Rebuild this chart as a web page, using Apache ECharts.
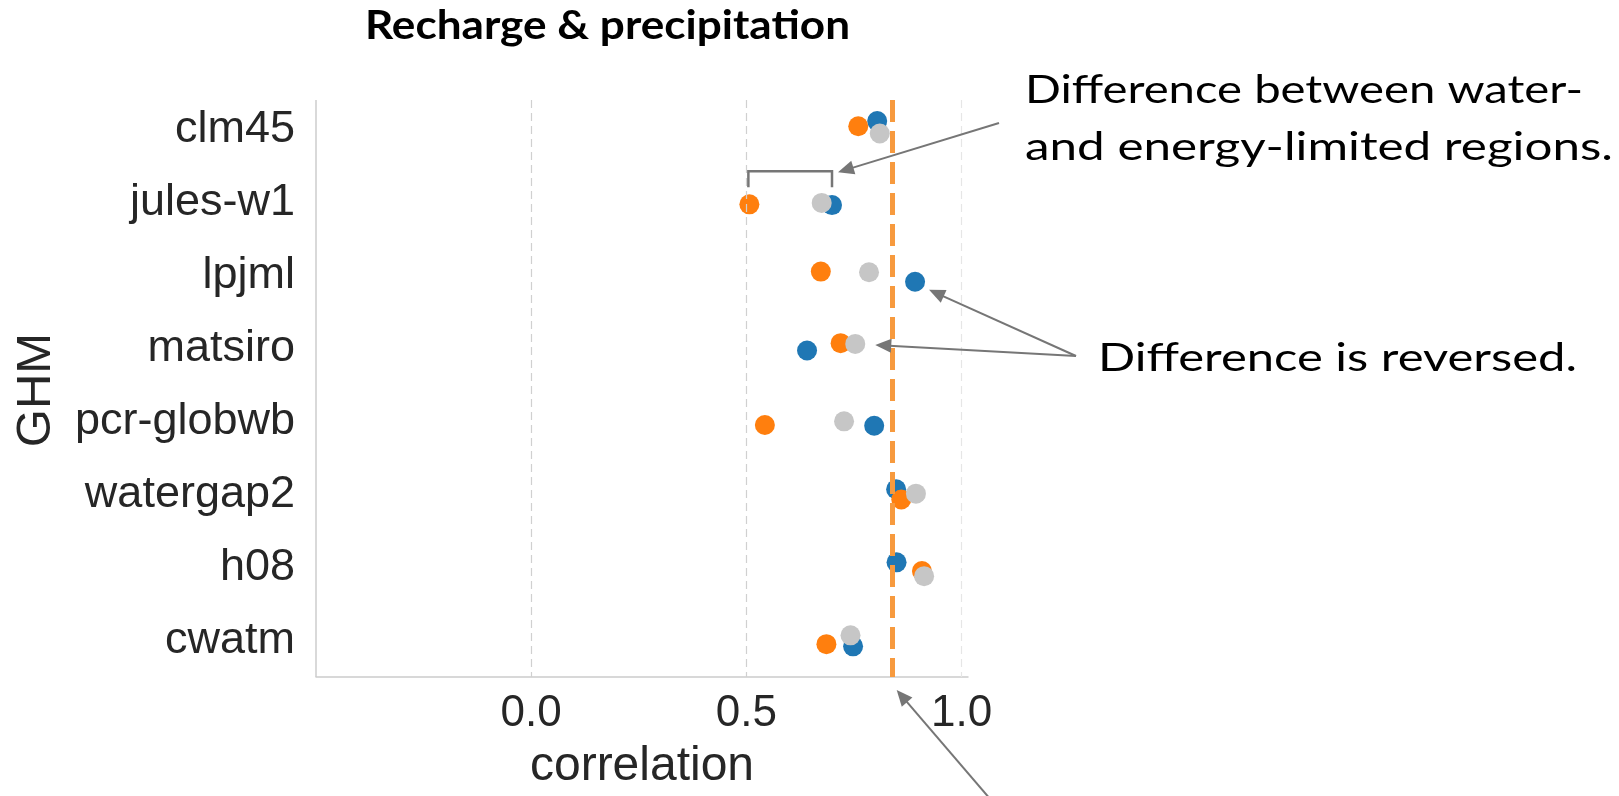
<!DOCTYPE html>
<html><head><meta charset="utf-8">
<script src="https://cdn.jsdelivr.net/npm/echarts@6/dist/echarts.min.js"></script>
<style>html,body{margin:0;padding:0;background:#fff;overflow:hidden}#c{width:1619px;height:796px}</style>
</head><body><div id="c"></div>
<script>
// ---- data ----
const categories = ['clm45', 'jules-w1', 'lpjml', 'matsiro', 'pcr-globwb', 'watergap2', 'h08', 'cwatm'];
const waterLimited  = [0.804, 0.699, 0.892, 0.641, 0.797, 0.848, 0.849, 0.748]; // blue
const energyLimited = [0.760, 0.507, 0.673, 0.719, 0.543, 0.860, 0.908, 0.686]; // orange
const allRegions    = [0.810, 0.675, 0.785, 0.753, 0.727, 0.894, 0.913, 0.742]; // grey
// strip-plot jitter (in category units)
const jitterWater  = [-0.11, 0.04, 0.09, 0.03, 0.06, -0.07, -0.07, 0.08];
const jitterEnergy = [-0.04, 0.03, -0.05, -0.07, 0.05, 0.07, 0.05, 0.05];
const jitterAll    = [0.06, 0.01, -0.04, -0.06, 0.00, -0.01, 0.12, -0.07];
const meanCorrelation = [0.84];
const xTickLabels = [0.0, 0.5, 1.0];

// ---- chart ----
const chart = echarts.init(document.getElementById('c'), null, {renderer: 'canvas'});
const SANS = 'Liberation Sans, Arial, sans-serif';
const yTop = -0.4, yBot = 7.5;
function pts(vals, jit) { return vals.map((v, i) => [v, i + jit[i]]); }
function vline(x, style) { return [{coord: [x, yTop], lineStyle: style}, {coord: [x, yBot]}]; }

const option = {
  animation: false,
  backgroundColor: '#fff',
  grid: {left: 316, right: 651, top: 92.6, bottom: 112, containLabel: false},
  xAxis: {
    type: 'value', min: -0.5, max: 1.015, interval: 0.5,
    axisLine: {show: true, onZero: false, lineStyle: {color: '#cccccc', width: 1.5}},
    axisTick: {show: false}, splitLine: {show: false},
    axisLabel: {margin: 15, fontSize: 44, color: '#262626', fontFamily: SANS,
      formatter: v => xTickLabels.some(t => Math.abs(t - v) < 1e-6) ? v.toFixed(1) : ''},
    name: 'correlation', nameLocation: 'middle', nameGap: 66,
    nameTextStyle: {fontSize: 48, color: '#262626', fontFamily: SANS}
  },
  yAxis: [
    {type: 'category', data: categories, inverse: true,
     axisLine: {show: false}, axisTick: {show: false}, splitLine: {show: false},
     axisLabel: {margin: 21, fontSize: 45, color: '#262626', fontFamily: SANS}},
    {type: 'value', min: -0.5, max: 7.5, inverse: true, show: false}
  ],
  series: [
    {type: 'scatter', xAxisIndex: 0, yAxisIndex: 1, data: [], silent: true,
     markLine: {silent: true, symbol: ['none', 'none'], label: {show: false},
       data: xTickLabels.map(t => vline(t, {type: [8, 5], color: t === 1 ? '#e6e6e6' : '#d0d0d0', width: 1.2}))
         .concat([vline(-0.5, {type: 'solid', color: '#cccccc', width: 1.5})])}},
    {name: 'water-limited', type: 'scatter', xAxisIndex: 0, yAxisIndex: 1, symbolSize: 20,
     itemStyle: {color: '#1f77b4', opacity: 1}, data: pts(waterLimited, jitterWater)},
    {name: 'energy-limited', type: 'scatter', xAxisIndex: 0, yAxisIndex: 1, symbolSize: 20,
     itemStyle: {color: '#ff7f0e', opacity: 1}, data: pts(energyLimited, jitterEnergy)},
    {name: 'all regions', type: 'scatter', xAxisIndex: 0, yAxisIndex: 1, symbolSize: 20,
     itemStyle: {color: '#c6c6c6', opacity: 1}, data: pts(allRegions, jitterAll)},
    {type: 'scatter', xAxisIndex: 0, yAxisIndex: 1, data: [], z: 10, silent: true,
     markLine: {silent: true, symbol: ['none', 'none'], label: {show: false}, z: 10,
       data: meanCorrelation.map(m => vline(m, {type: [22, 9], color: '#f79a3e', width: 5}))}}
  ]
};
chart.setOption(option);

// ---- annotations ----
const P = (x, y) => chart.convertToPixel({xAxisIndex: 0, yAxisIndex: 1}, [x, y]);
const GREY = '#767676';
const mctx = document.createElement('canvas').getContext('2d');
function fitText(text, font, left, centerY, width, extra) {
  mctx.font = font;
  const w = mctx.measureText(text).width;
  return Object.assign({type: 'text', x: left, y: centerY, scaleX: width / w, scaleY: 1,
    style: {x: 0, y: 0, text: text, font: font, fill: '#000', align: 'left', verticalAlign: 'middle'}}, extra || {});
}
function arrow(x1, y1, x2, y2) {
  const dx = x2 - x1, dy = y2 - y1, L = Math.hypot(dx, dy), ux = dx / L, uy = dy / L;
  const hl = 16, hw = 7, bx = x2 - ux * hl, by = y2 - uy * hl;
  return [
    {type: 'line', shape: {x1: x1, y1: y1, x2: bx + ux * 2, y2: by + uy * 2}, style: {stroke: GREY, lineWidth: 2}, z: 20},
    {type: 'polygon', shape: {points: [[x2, y2], [bx - uy * hw, by + ux * hw], [bx + uy * hw, by - ux * hw]]}, style: {fill: GREY}, z: 20}
  ];
}
const jo = P(energyLimited[1], 1), jb = P(waterLimited[1], 1);
const yt = jo[1] - 31, yb = yt + 16;
const lpB = P(waterLimited[2], 2 + jitterWater[2]);
const maG = P(allRegions[3], 3 + jitterAll[3]);
const mB = P(meanCorrelation[0], yBot);
const ANN = 'Lato, "Open Sans", sans-serif';
const graphics = [
  fitText('Recharge & precipitation', 'bold 40px ' + ANN, 365, 26, 485),
  fitText('Difference between water-', '39px ' + ANN, 1025, 90, 558),
  fitText('and energy-limited regions.', '39px ' + ANN, 1025, 147, 588),
  fitText('Difference is reversed.', '39px ' + ANN, 1098, 358, 479),
  {type: 'text', rotation: Math.PI / 2, x: 36, y: 390, style: {x: 0, y: 0, text: 'GHM', font: '49px ' + SANS, fill: '#262626', align: 'center', verticalAlign: 'middle'}},
  {type: 'polyline', shape: {points: [[jo[0] - 1, yb], [jo[0] - 1, yt], [jb[0], yt], [jb[0], yb]]}, style: {stroke: GREY, lineWidth: 2.5, fill: null}, z: 20}
].concat(arrow(999, 123, jb[0] + 6, yt + 1))
 .concat(arrow(1076, 356, lpB[0] + 14, lpB[1] + 8))
 .concat(arrow(1076, 356, maG[0] + 20, maG[1] + 1))
 .concat(arrow(991, 800, mB[0] + 4, mB[1] + 13));
chart.setOption({graphic: {elements: graphics}});
</script>
</body></html>
